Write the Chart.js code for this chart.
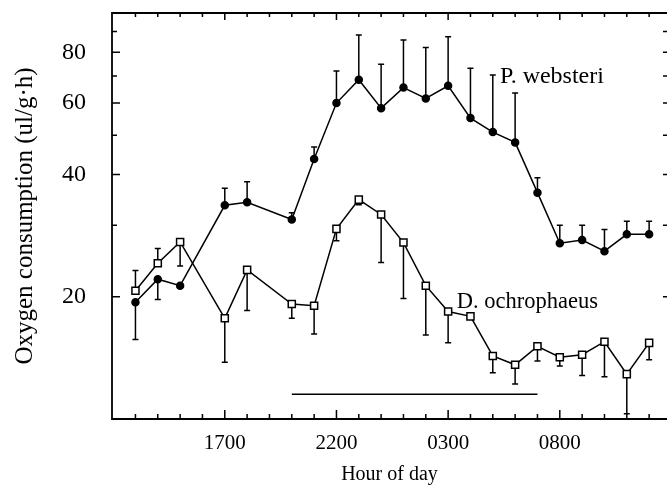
<!DOCTYPE html>
<html>
<head>
<meta charset="utf-8">
<script src="https://cdn.jsdelivr.net/npm/chart.js@4.4.0/dist/chart.umd.min.js"></script>
<style>
  html, body { margin: 0; padding: 0; background: #fff; }
</style>
</head>
<body>
<canvas id="chart" width="667" height="490"></canvas>
<script>
// hours counted from noon: 1 = 1300 ... 24 = 1200 next day (no samples at 1600, 1900)
const hours = [1, 2, 3, 5, 6, 8, 9, 10, 11, 12, 13, 14, 15, 16, 17, 18, 19, 20, 21, 22, 23, 24];
const websteri = [19.4, 22.1, 21.3, 33.6, 34.2, 31.0, 43.7, 60.0, 68.5, 58.3, 65.5, 61.6, 66.2, 55.1, 50.9, 48.0, 36.1, 27.1, 27.6, 25.9, 28.5, 28.5];
const websteriErr = [15.7, 19.7, null, 37.0, 38.4, 32.2, 46.8, 72.0, 88.3, 74.8, 85.8, 82.2, 87.4, 73.1, 70.4, 63.5, 39.3, 30.0, 30.0, 29.3, 30.7, 30.7];
const ochrophaeus = [20.7, 24.2, 27.3, 17.7, 23.3, 19.2, 19.0, 29.4, 34.7, 31.9, 27.2, 21.3, 18.4, 17.9, 14.3, 13.6, 15.1, 14.2, 14.4, 15.5, 12.9, 15.4];
const ochrophaeusErr = [23.2, 26.3, 23.8, 13.8, 18.5, 17.7, 16.2, 27.5, 33.7, 24.3, 19.8, 16.1, 15.4, null, 13.0, 12.2, 13.9, 13.5, 12.8, 12.7, 10.3, 14.0];
// dark period bar, 2000 to 0700
const darkPeriod = [8, 19];
const darkLevel = 11.5;

const xTicks = [5, 10, 15, 20];
const yTicks = [20, 40, 60, 80];
const yMinorTicks = [30, 50, 70, 90];

const family = '"Liberation Serif", "DejaVu Serif", serif';
const hourLabel = h => String(((12 + h) % 24) * 100).padStart(4, '0');

// series names written inside the plot, placed in data coordinates
const seriesLabels = [
  { text: 'P. websteri', x: 17.32, y: 67.2, size: 24 },
  { text: 'D. ochrophaeus', x: 15.39, y: 18.8, size: 22.5 }
];

const noPad = s => {
  s.paddingTop = 0;
  s.paddingBottom = 0;
  s.paddingLeft = 0;
  s.paddingRight = 0;
};

const errorBars = {
  id: 'errorBars',
  beforeDatasetsDraw(chart) {
    const { ctx, scales: { x, y } } = chart;
    ctx.save();
    ctx.strokeStyle = '#000';
    ctx.lineWidth = 1.5;
    chart.data.datasets.forEach(ds => {
      if (!ds.err) return;
      ds.data.forEach((p, i) => {
        const e = ds.err[i];
        if (e == null) return;
        const px = x.getPixelForValue(p.x);
        const y0 = y.getPixelForValue(p.y);
        const y1 = y.getPixelForValue(e);
        ctx.beginPath();
        ctx.moveTo(px, y0);
        ctx.lineTo(px, y1);
        ctx.moveTo(px - 3, y1);
        ctx.lineTo(px + 3, y1);
        ctx.stroke();
      });
    });
    ctx.restore();
  }
};

const frame = {
  id: 'frame',
  afterDraw(chart) {
    const { ctx, chartArea: a, scales: { x, y } } = chart;
    ctx.save();
    ctx.strokeStyle = '#000';
    ctx.lineWidth = 1.8;
    ctx.beginPath();
    ctx.moveTo(a.right, a.top);
    ctx.lineTo(a.left, a.top);
    ctx.lineTo(a.left, a.bottom);
    ctx.lineTo(a.right, a.bottom);
    ctx.stroke();

    ctx.lineWidth = 1.5;
    ctx.beginPath();
    for (let h = 1; h <= 24; h++) {
      const px = x.getPixelForValue(h);
      const major = xTicks.includes(h);
      ctx.moveTo(px, a.bottom);
      ctx.lineTo(px, a.bottom - (major ? 9 : 5));
      ctx.moveTo(px, a.top);
      ctx.lineTo(px, a.top + (major ? 7 : 4));
    }
    yTicks.concat(yMinorTicks).forEach(v => {
      const py = y.getPixelForValue(v);
      const major = yTicks.includes(v);
      ctx.moveTo(a.left, py);
      ctx.lineTo(a.left + (major ? 8 : 5), py);
      ctx.moveTo(a.right, py);
      ctx.lineTo(a.right - 4, py);
    });
    ctx.stroke();

    ctx.fillStyle = '#000';
    ctx.textAlign = 'left';
    ctx.textBaseline = 'alphabetic';
    seriesLabels.forEach(l => {
      ctx.font = l.size + 'px ' + family;
      ctx.fillText(l.text, x.getPixelForValue(l.x), y.getPixelForValue(l.y));
    });
    ctx.restore();
  }
};

new Chart(document.getElementById('chart'), {
  type: 'line',
  data: {
    datasets: [
      {
        label: 'P. websteri',
        data: hours.map((h, i) => ({ x: h, y: websteri[i] })),
        err: websteriErr,
        borderColor: '#000',
        borderWidth: 1.5,
        pointStyle: 'circle',
        pointRadius: 3.5,
        pointBackgroundColor: '#000',
        pointBorderColor: '#000',
        tension: 0
      },
      {
        label: 'D. ochrophaeus',
        data: hours.map((h, i) => ({ x: h, y: ochrophaeus[i] })),
        err: ochrophaeusErr,
        borderColor: '#000',
        borderWidth: 1.5,
        pointStyle: 'rect',
        pointRadius: 5,
        pointBackgroundColor: '#fff',
        pointBorderColor: '#000',
        pointBorderWidth: 1.5,
        tension: 0
      },
      {
        label: 'dark',
        data: darkPeriod.map(h => ({ x: h, y: darkLevel })),
        borderColor: '#000',
        borderWidth: 1.5,
        pointRadius: 0
      }
    ]
  },
  options: {
    responsive: false,
    animation: false,
    layout: { autoPadding: false, padding: { top: 13, right: 0, bottom: 0, left: 0 } },
    plugins: { legend: { display: false }, tooltip: { enabled: false } },
    scales: {
      x: {
        type: 'linear',
        min: -0.05,
        max: 24.8,
        afterBuildTicks: s => { s.ticks = xTicks.map(v => ({ value: v })); },
        afterFit: s => { s.height = 71; noPad(s); },
        grid: { display: false, drawTicks: false },
        border: { display: false },
        ticks: {
          callback: v => hourLabel(v),
          font: { family, size: 21 },
          color: '#000',
          padding: 12,
          maxRotation: 0,
          autoSkip: false
        },
        title: {
          display: true,
          text: 'Hour of day',
          font: { family, size: 20 },
          color: '#000',
          padding: { top: 0, bottom: 3 }
        }
      },
      y: {
        type: 'logarithmic',
        min: 10,
        max: 100,
        afterBuildTicks: s => { s.ticks = yTicks.map(v => ({ value: v })); },
        afterFit: s => { s.width = 112; noPad(s); },
        grid: { display: false, drawTicks: false },
        border: { display: false },
        ticks: {
          callback: v => String(v),
          font: { family, size: 24 },
          color: '#000',
          padding: 26,
          autoSkip: false
        },
        title: {
          display: true,
          text: 'Oxygen consumption (ul/g·h)',
          font: { family, size: 25 },
          color: '#000',
          padding: { top: 10, bottom: 0 }
        }
      }
    }
  },
  plugins: [errorBars, frame]
});
</script>
</body>
</html>
